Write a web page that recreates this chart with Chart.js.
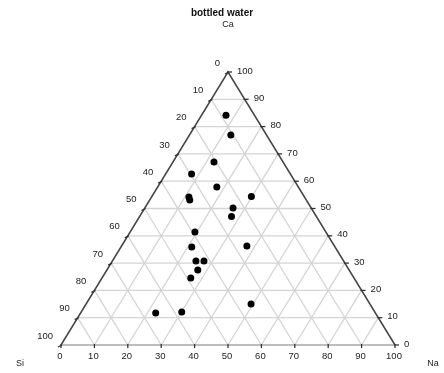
<!DOCTYPE html>
<html>
<head>
<meta charset="utf-8">
<style>
html,body{margin:0;padding:0;background:#fff;}
#wrap{width:444px;height:373px;position:relative;}
</style>
<script src="https://cdn.jsdelivr.net/npm/chart.js@4.4.0/dist/chart.umd.min.js"></script>
</head>
<body>
<div id="wrap"><canvas id="c" width="444" height="373"></canvas></div>
<script>
// Ternary data: Ca (top), Na (bottom right), Si (bottom left), percent
const chartTitle = "bottled water";
const axisNames = { top: "Ca", left: "Si", right: "Na" };
const caValues = [84.2, 76.9, 67.0, 62.6, 57.9, 54.2, 53.1, 54.4, 50.2, 47.1, 41.4, 35.9, 36.3, 30.8, 30.8, 27.5, 24.5, 15.0, 11.7, 12.1];
const naValues = [7.3, 12.4, 12.3, 7.8, 17.7, 11.2, 12.0, 29.8, 26.4, 27.5, 19.4, 21.2, 37.5, 25.0, 27.4, 27.2, 26.6, 49.4, 22.5, 30.1];
const tickValues = [0, 10, 20, 30, 40, 50, 60, 70, 80, 90, 100];

const points = caValues.map((ca, i) => ({ x: naValues[i] + ca / 2, y: ca }));

const ternaryPlugin = {
  id: 'ternary',
  beforeDatasetsDraw(chart) {
    const ctx = chart.ctx;
    const xs = chart.scales.x, ys = chart.scales.y;
    // ternary (na, ca) -> pixel
    const P = (na, ca) => [xs.getPixelForValue(na + ca / 2), ys.getPixelForValue(ca)];
    ctx.save();
    // grid
    ctx.strokeStyle = '#d4d4d4';
    ctx.lineWidth = 1.3;
    for (let v = 10; v < 100; v += 10) {
      let a = P(0, v), b = P(100 - v, v);
      ctx.beginPath(); ctx.moveTo(a[0], a[1]); ctx.lineTo(b[0], b[1]); ctx.stroke();
      a = P(v, 0); b = P(v, 100 - v);
      ctx.beginPath(); ctx.moveTo(a[0], a[1]); ctx.lineTo(b[0], b[1]); ctx.stroke();
      a = P(100 - v, 0); b = P(0, 100 - v);
      ctx.beginPath(); ctx.moveTo(a[0], a[1]); ctx.lineTo(b[0], b[1]); ctx.stroke();
    }
    const bl = P(0, 0), br = P(100, 0), ap = P(0, 100);
    ctx.strokeStyle = '#bdbdbd';
    ctx.lineWidth = 2;
    ctx.beginPath(); ctx.moveTo(bl[0], bl[1]); ctx.lineTo(br[0], br[1]); ctx.stroke();
    ctx.strokeStyle = '#444';
    ctx.lineWidth = 1.5;
    ctx.beginPath(); ctx.moveTo(bl[0], bl[1]); ctx.lineTo(ap[0], ap[1]); ctx.lineTo(br[0], br[1]); ctx.stroke();
    // tick marks
    ctx.strokeStyle = '#333';
    ctx.lineWidth = 1.3;
    tickValues.forEach(v => {
      let p = P(v, 0);
      ctx.beginPath(); ctx.moveTo(p[0], p[1] - 1); ctx.lineTo(p[0], p[1] + 3); ctx.stroke();
      p = P(100 - v, v);
      ctx.beginPath(); ctx.moveTo(p[0] - 1, p[1]); ctx.lineTo(p[0] + 4, p[1]); ctx.stroke();
      p = P(0, 100 - v);
      ctx.beginPath(); ctx.moveTo(p[0] + 1, p[1]); ctx.lineTo(p[0] - 3, p[1] + 2); ctx.stroke();
    });
    // labels
    ctx.fillStyle = '#222';
    ctx.font = '9.5px "Liberation Sans", Arial, sans-serif';
    ctx.textBaseline = 'middle';
    tickValues.forEach(v => {
      let p = P(v, 0);
      ctx.textAlign = 'center';
      ctx.fillText(String(v), p[0] - 1, p[1] + 11);
      p = P(100 - v, v);
      ctx.textAlign = 'left';
      ctx.fillText(String(v), p[0] + 9, p[1] - 1);
      p = P(0, 100 - v);
      ctx.textAlign = 'right';
      ctx.fillText(String(v), p[0] - 8, p[1] - 9);
    });
    // axis names
    ctx.textAlign = 'center';
    ctx.font = '9px "Liberation Sans", Arial, sans-serif';
    ctx.fillText(axisNames.top, ap[0], 25);
    ctx.fillText(axisNames.left, bl[0] - 41, bl[1] + 19);
    ctx.fillText(axisNames.right, br[0] + 38, br[1] + 19);
    // title
    ctx.font = 'bold 10px "Liberation Sans", Arial, sans-serif';
    ctx.fillStyle = '#111';
    ctx.fillText(chartTitle, ap[0] - 6, 13);
    ctx.restore();
  }
};

new Chart(document.getElementById('c'), {
  type: 'scatter',
  data: {
    datasets: [{
      data: points,
      backgroundColor: '#000',
      borderColor: '#000',
      pointRadius: 3.5,
      pointHoverRadius: 3.5,
      borderWidth: 0
    }]
  },
  options: {
    responsive: false,
    animation: false,
    events: [],
    layout: { padding: { left: 61, right: 49, top: 72, bottom: 28 } },
    plugins: { legend: { display: false }, tooltip: { enabled: false }, title: { display: false } },
    scales: {
      x: { type: 'linear', min: 0, max: 100, display: false },
      y: { type: 'linear', min: 0, max: 100, display: false }
    }
  },
  plugins: [ternaryPlugin]
});
</script>
</body>
</html>
